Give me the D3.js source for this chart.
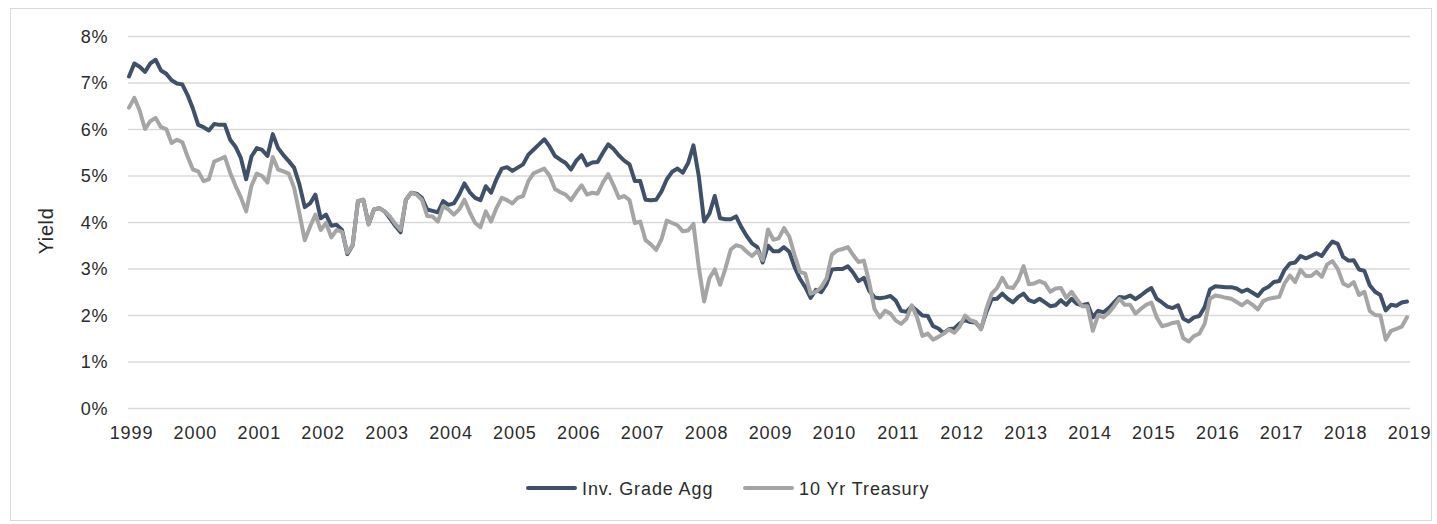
<!DOCTYPE html>
<html>
<head>
<meta charset="utf-8">
<script src="https://cdnjs.cloudflare.com/ajax/libs/d3/7.8.5/d3.min.js"></script>
<style>
    body { margin: 0; background: #ffffff; }
    svg text { font-family: "Liberation Sans", Arial, sans-serif; fill: #2b2b2b; }
</style>
</head>
<body>
<div id="chart"></div>
<script>
// Monthly yields, Jan 1999 .. Jan 2019 (241 points)
var years = d3.range(1999, 2020);
var yTicks = [0, 1, 2, 3, 4, 5, 6, 7, 8];
var seriesNames = ['Inv. Grade Agg', '10 Yr Treasury'];
var seriesColors = ['#3f5068', '#a5a5a5'];

var invGradeAgg = [
    7.14, 7.42, 7.35, 7.24, 7.42, 7.50, 7.27, 7.20, 7.06, 6.99, 6.97, 6.74,
    6.45, 6.10, 6.05, 5.98, 6.12, 6.10, 6.10, 5.78, 5.63, 5.39, 4.93, 5.42,
    5.60, 5.56, 5.43, 5.90, 5.60, 5.45, 5.32, 5.18, 4.82, 4.33, 4.41, 4.60,
    4.09, 4.17, 3.93, 3.95, 3.84, 3.32, 3.51, 4.46, 4.49, 3.96, 4.28, 4.31,
    4.24, 4.09, 3.93, 3.79, 4.49, 4.64, 4.62, 4.53, 4.28, 4.25, 4.22, 4.46,
    4.38, 4.41, 4.60, 4.84, 4.65, 4.53, 4.48, 4.78, 4.64, 4.93, 5.16, 5.19,
    5.11, 5.18, 5.25, 5.46, 5.57, 5.68, 5.79, 5.63, 5.43, 5.35, 5.28, 5.14,
    5.33, 5.45, 5.23, 5.29, 5.30, 5.50, 5.68, 5.58, 5.44, 5.33, 5.25, 4.89,
    4.89, 4.49, 4.48, 4.49, 4.67, 4.93, 5.09, 5.16, 5.07, 5.28, 5.66, 5.00,
    4.02, 4.19, 4.57, 4.09, 4.07, 4.07, 4.13, 3.90, 3.71, 3.55, 3.47, 3.14,
    3.50, 3.38, 3.38, 3.47, 3.37, 3.04, 2.79, 2.61, 2.38, 2.55, 2.50, 2.68,
    2.99, 3.00, 3.00, 3.06, 2.92, 2.74, 2.81, 2.53, 2.39, 2.37, 2.39, 2.42,
    2.32, 2.10, 2.08, 2.20, 2.10, 2.00, 1.99, 1.77, 1.72, 1.62, 1.71, 1.72,
    1.83, 1.90, 1.86, 1.85, 1.71, 2.07, 2.35, 2.36, 2.47, 2.36, 2.28, 2.40,
    2.47, 2.33, 2.29, 2.36, 2.28, 2.20, 2.22, 2.33, 2.23, 2.36, 2.25, 2.22,
    2.25, 1.96, 2.10, 2.07, 2.16, 2.28, 2.40, 2.38, 2.43, 2.35, 2.43, 2.52,
    2.59, 2.36, 2.28, 2.19, 2.16, 2.22, 1.93, 1.87, 1.96, 1.99, 2.18, 2.56,
    2.63, 2.62, 2.61, 2.61, 2.58, 2.51, 2.56, 2.49, 2.42, 2.56, 2.62, 2.72,
    2.74, 2.98, 3.12, 3.14, 3.28, 3.23, 3.28, 3.34, 3.28, 3.45, 3.59, 3.54,
    3.26, 3.18, 3.19, 2.99, 2.96, 2.65, 2.51, 2.44, 2.11, 2.23, 2.21, 2.28,
    2.30
];

var tenYrTreasury = [
    6.47, 6.68, 6.41, 6.01, 6.18, 6.25, 6.05, 6.01, 5.71, 5.78, 5.73, 5.42,
    5.14, 5.10, 4.89, 4.93, 5.31, 5.36, 5.41, 5.07, 4.79, 4.54, 4.24, 4.79,
    5.05, 5.00, 4.86, 5.41, 5.14, 5.10, 5.05, 4.75, 4.20, 3.62, 3.91, 4.17,
    3.84, 3.99, 3.68, 3.84, 3.80, 3.35, 3.51, 4.46, 4.49, 3.96, 4.28, 4.31,
    4.24, 4.13, 3.97, 3.84, 4.49, 4.64, 4.60, 4.49, 4.14, 4.13, 4.02, 4.35,
    4.28, 4.17, 4.28, 4.49, 4.22, 3.99, 3.90, 4.24, 4.02, 4.31, 4.53, 4.48,
    4.41, 4.53, 4.57, 4.89, 5.06, 5.11, 5.16, 5.00, 4.72, 4.65, 4.60, 4.48,
    4.65, 4.80, 4.60, 4.64, 4.62, 4.86, 5.04, 4.80, 4.53, 4.57, 4.48, 3.99,
    4.02, 3.62, 3.53, 3.41, 3.64, 4.04, 3.99, 3.94, 3.81, 3.83, 3.97, 3.04,
    2.30, 2.80, 2.99, 2.66, 3.01, 3.42, 3.51, 3.48, 3.37, 3.28, 3.39, 3.19,
    3.85, 3.63, 3.66, 3.88, 3.70, 3.30, 2.94, 2.90, 2.47, 2.51, 2.61, 2.80,
    3.31, 3.40, 3.43, 3.47, 3.30, 3.15, 3.18, 2.72, 2.14, 1.96, 2.10, 2.04,
    1.89, 1.82, 1.93, 2.22, 1.96, 1.56, 1.61, 1.48, 1.54, 1.61, 1.70, 1.63,
    1.76, 2.00, 1.90, 1.86, 1.70, 2.14, 2.47, 2.59, 2.81, 2.61, 2.59, 2.76,
    3.06, 2.67, 2.69, 2.74, 2.69, 2.51, 2.58, 2.59, 2.38, 2.51, 2.35, 2.20,
    2.20, 1.67, 2.01, 1.96, 2.06, 2.20, 2.36, 2.23, 2.23, 2.04, 2.14, 2.23,
    2.28, 1.96, 1.77, 1.80, 1.84, 1.86, 1.51, 1.44, 1.56, 1.61, 1.82, 2.36,
    2.43, 2.41, 2.38, 2.36, 2.29, 2.22, 2.31, 2.23, 2.13, 2.31, 2.36, 2.38,
    2.40, 2.69, 2.86, 2.72, 2.98, 2.85, 2.85, 2.94, 2.83, 3.10, 3.17, 3.00,
    2.69, 2.63, 2.72, 2.44, 2.51, 2.10, 2.01, 2.00, 1.48, 1.67, 1.71, 1.76,
    1.96
];

var width = 1437;
var height = 524;

var svg = d3.select('#chart').append('svg')
    .attr('width', width)
    .attr('height', height);

// Chart frame
svg.append('rect')
    .attr('x', 10.5)
    .attr('y', 8.5)
    .attr('width', 1421)
    .attr('height', 512)
    .attr('fill', '#ffffff')
    .attr('stroke', '#d9d9d9')
    .attr('stroke-width', 1);

// month index -> x, percent -> y
var x = d3.scaleLinear().domain([0, 240]).range([129, 1407]);
var y = d3.scaleLinear().domain([0, 8]).range([408.5, 36.5]);

// Horizontal gridlines
svg.append('g')
    .selectAll('line')
    .data(yTicks)
    .enter()
    .append('line')
        .attr('x1', 128)
        .attr('x2', 1410)
        .attr('y1', function(d) { return y(d); })
        .attr('y2', function(d) { return y(d); })
        .attr('stroke', '#d9d9d9')
        .attr('stroke-width', 1.5);

// Y axis labels
var yAxis = d3.axisLeft(y)
    .tickValues(yTicks)
    .tickFormat(function(d) { return d + '%'; })
    .tickSize(0)
    .tickPadding(0);

var gy = svg.append('g')
    .attr('transform', 'translate(108,0)')
    .call(yAxis);
gy.select('.domain').remove();
gy.selectAll('text')
    .attr('font-size', '18px')
    .attr('fill', '#2b2b2b')
    .attr('letter-spacing', '0.6px');

// X axis labels, one per January
var xAxis = d3.axisBottom(x)
    .tickValues(years.map(function(yr) { return (yr - 1999) * 12; }))
    .tickFormat(function(d) { return String(1999 + d / 12); })
    .tickSize(0)
    .tickPadding(0);

var gx = svg.append('g')
    .attr('transform', 'translate(2,426)')
    .call(xAxis);
gx.select('.domain').remove();
gx.selectAll('text')
    .attr('font-size', '18px')
    .attr('fill', '#2b2b2b')
    .attr('letter-spacing', '0.9px');

// Axis title
svg.append('text')
    .attr('transform', 'translate(53,231) rotate(-90)')
    .attr('text-anchor', 'middle')
    .attr('font-size', '20px')
    .attr('letter-spacing', '0.6px')
    .text('Yield');

// Lines: aggregate first, treasury drawn over it
var line = d3.line()
    .x(function(d, i) { return x(i); })
    .y(function(d) { return y(d); });

[invGradeAgg, tenYrTreasury].forEach(function(vals, k) {
    svg.append('path')
        .datum(vals)
        .attr('d', line)
        .attr('fill', 'none')
        .attr('stroke', seriesColors[k])
        .attr('stroke-width', 4)
        .attr('stroke-linejoin', 'round')
        .attr('stroke-linecap', 'round');
});

// Legend
var legendX = [528, 745];
var legend = svg.append('g')
    .selectAll('g')
    .data(seriesNames)
    .enter()
    .append('g')
        .attr('transform', function(d, i) { return 'translate(' + legendX[i] + ',488)'; });

legend.append('line')
    .attr('x1', 0)
    .attr('x2', 47)
    .attr('stroke', function(d, i) { return seriesColors[i]; })
    .attr('stroke-width', 4)
    .attr('stroke-linecap', 'round');

legend.append('text')
    .attr('x', 54)
    .attr('y', 6.5)
    .attr('font-size', '18px')
    .attr('letter-spacing', '0.9px')
    .text(function(d) { return d; });
</script>
</body>
</html>
